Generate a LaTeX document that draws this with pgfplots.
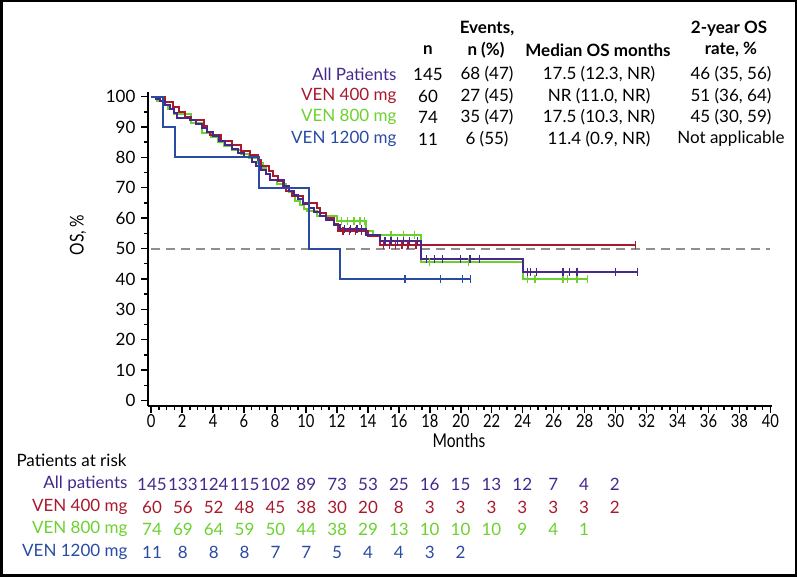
\documentclass[border=0pt]{standalone}
\usepackage{fontspec}
\setmainfont{Lato}
\newfontfamily\condfont{Lato}[FakeStretch=0.82]
\usepackage{pgfplots}
\pgfplotsset{compat=1.18}

\definecolor{allc}{HTML}{46288C}
\definecolor{redc}{HTML}{A8192E}
\definecolor{grnc}{HTML}{6CD12E}
\definecolor{bluc}{HTML}{2A4BA3}
\definecolor{refc}{HTML}{8F8F8F}

\pgfplotsset{
  km/.style={const plot, line width=2pt, no marks},
  cens/.style={only marks, mark=|, mark size=4pt, mark options={line width=1.3pt}},
}

\begin{document}
\begin{tikzpicture}[x=1pt,y=1pt]
\path[use as bounding box] (0,0) rectangle (797,577);
\draw[line width=2.5pt] (1.25,1.25) rectangle (795.75,575.75);

\begin{axis}[
  at={(148pt,171pt)}, anchor=south west,
  scale only axis, width=624pt, height=314pt,
  xmin=-0.2, xmax=40.1, ymin=-1.8, ymax=101.5,
  axis x line*=bottom, axis y line*=left,
  axis line style={line width=1.8pt},
  xtick={0,2,...,40}, minor x tick num=3,
  ytick={0,10,...,100}, minor y tick num=1,
  tick align=outside,
  major tick length=7pt, minor tick length=4pt,
  every tick/.style={black, line width=1.5pt},
  /pgf/number format/assume math mode=true,
  xticklabel style={font=\condfont\fontsize{18}{20}\selectfont, yshift=2pt},
  yticklabel style={font=\fontsize{17}{20}\selectfont, xshift=-2pt},
]
\addplot[refc, line width=2pt, dash pattern=on 9pt off 6pt] coordinates {(0,50) (40,50)};

% VEN 800 mg
\addplot[km, grnc] coordinates {(0,100)(0.4,98.6)(0.8,97.3)(1.1,95.9)(1.5,94.2)(2.6,91.4)(3.3,88.0)(3.9,86.6)(4.3,85.2)(4.7,83.8)(5.2,82.4)(5.8,81.0)(6.3,79.7)(6.9,78.3)(7.2,76.5)(7.4,74.6)(7.7,72.5)(8.1,71.3)(8.7,70.0)(8.9,68.6)(9.1,67.2)(9.3,65.8)(9.6,64.4)(9.9,62.9)(10.1,62.3)(10.7,60.7)(12.0,59.0)(13.9,55.7)(14.3,54.6)(17.4,45.7)(24.0,40.0)(28.2,40.0)};
\addplot[cens, grnc] coordinates {(12.3,59.0)(12.7,59.0)(13.1,59.0)(13.5,59.0)(13.8,59.0)(15.5,54.6)(16.3,54.6)(17.0,54.6)(18.0,45.7)(20.5,45.7)(24.3,40)(24.8,40)(26.6,40)(26.9,40)(27.5,40)(28.2,40)};

% VEN 400 mg
\addplot[km, redc] coordinates {(0,100)(0.9,98.3)(1.4,96.7)(1.8,95.0)(2.2,93.3)(2.6,92.2)(3.4,90.2)(3.6,88.5)(3.8,87.4)(4.5,85.5)(5.2,84.0)(5.8,82.2)(6.4,80.8)(6.9,79.0)(7.1,77.2)(7.6,75.5)(7.9,73.8)(8.2,72.2)(8.5,70.6)(8.7,69.0)(9.1,67.2)(9.8,65.0)(10.7,63.4)(10.9,61.8)(11.3,60.1)(11.8,58.2)(12.1,55.8)(14.0,54.2)(14.8,51.0)(31.3,51.0)};
\addplot[cens, redc] coordinates {(12.4,55.8)(12.8,55.8)(13.2,55.8)(13.6,55.8)(15.0,51)(15.4,51)(15.8,51)(16.2,51)(16.6,51)(17.1,51)(31.3,51)};

% All patients
\addplot[km, allc] coordinates {(0,100)(0.3,99.3)(0.6,98.6)(0.9,97.2)(1.2,95.9)(1.5,94.5)(1.7,93.1)(2.5,92.4)(2.9,91.0)(3.3,89.6)(3.6,88.3)(4.0,86.9)(4.4,85.5)(4.8,84.1)(5.2,82.8)(5.6,81.4)(6.0,80.0)(6.5,78.6)(6.8,77.2)(7.1,75.8)(7.4,74.4)(7.7,72.7)(8.6,70.5)(8.9,69.0)(9.2,67.6)(9.5,66.2)(9.8,64.8)(10.2,63.4)(10.5,62.0)(10.9,60.7)(11.3,59.3)(11.8,57.9)(12.2,56.3)(13.9,54.6)(14.8,52.4)(17.4,46.4)(24.0,42.4)(31.4,42.4)};
\addplot[cens, allc] coordinates {(12.5,56.3)(12.9,56.3)(13.3,56.3)(13.6,56.3)(15.1,52.4)(15.5,52.4)(15.9,52.4)(16.3,52.4)(16.7,52.4)(17.2,52.4)(17.8,46.4)(18.3,46.4)(18.8,46.4)(20.0,46.4)(20.6,46.4)(21.2,46.4)(24.3,42.4)(24.5,42.4)(24.9,42.4)(26.6,42.4)(27.0,42.4)(27.5,42.4)(30.0,42.4)(31.4,42.4)};

% VEN 1200 mg
\addplot[km, bluc] coordinates {(0,100)(0.75,90)(1.55,80)(6.95,70)(10.2,50)(12.2,40)(20.65,40)};
\addplot[cens, bluc] coordinates {(16.4,40)(18.7,40)(20.1,40)(20.65,40)};
\end{axis}

% axis titles
\node[font=\condfont\fontsize{19}{22}\selectfont] at (459,136) {Months};
\node[font=\condfont\fontsize{19}{22}\selectfont, rotate=90] at (78,342) {OS, \%};

% summary table
\begin{scope}[every node/.style={font=\fontsize{17}{20}\selectfont}]
\node[font=\bfseries\fontsize{17}{20}\selectfont] at (487,548) {Events,};
\node[font=\bfseries\fontsize{17}{20}\selectfont] at (729,548) {2-year OS};
\node[font=\bfseries\fontsize{17}{20}\selectfont] at (428,527) {n};
\node[font=\bfseries\fontsize{17}{20}\selectfont] at (486,527) {n (\%)};
\node[font=\bfseries\fontsize{17}{20}\selectfont] at (598,527) {Median OS months};
\node[font=\bfseries\fontsize{17}{20}\selectfont] at (731,527) {rate, \%};

\node[anchor=east, text=allc] at (400,503) {All Patients};
\node[anchor=east, text=redc] at (400,481) {VEN 400 mg};
\node[anchor=east, text=grnc] at (400,460) {VEN 800 mg};
\node[anchor=east, text=bluc] at (400,438) {VEN 1200 mg};

\node at (428,503) {145}; \node at (487,503) {68 (47)}; \node at (599,503) {17.5 (12.3, NR)}; \node at (731,503) {46 (35, 56)};
\node at (428,481) {60};  \node at (487,481) {27 (45)}; \node at (599,481) {NR (11.0, NR)};   \node at (731,481) {51 (36, 64)};
\node at (428,460) {74};  \node at (487,460) {35 (47)}; \node at (599,460) {17.5 (10.3, NR)}; \node at (731,460) {45 (30, 59)};
\node at (428,438) {11};  \node at (487,438) {6 (55)};  \node at (599,438) {11.4 (0.9, NR)};  \node at (731,438) {Not applicable};
\end{scope}

% patients at risk
\begin{scope}[every node/.style={font=\fontsize{17}{20}\selectfont}]
\node[anchor=west] at (13,117) {Patients at risk};
\node[anchor=east, text=allc] at (131,93) {All patients};
\node[anchor=east, text=redc] at (131,70) {VEN 400 mg};
\node[anchor=east, text=grnc] at (131,48) {VEN 800 mg};
\node[anchor=east, text=bluc] at (131,25) {VEN 1200 mg};
\foreach \v [count=\i from 0] in {145,133,124,115,102,89,73,53,25,16,15,13,12,7,4,2}
  \node[text=allc, inner sep=0pt] at (152+30.86*\i,93) {\v};
\foreach \v [count=\i from 0] in {60,56,52,48,45,38,30,20,8,3,3,3,3,3,3,2}
  \node[text=redc, inner sep=0pt] at (152+30.86*\i,70) {\v};
\foreach \v [count=\i from 0] in {74,69,64,59,50,44,38,29,13,10,10,10,9,4,1}
  \node[text=grnc, inner sep=0pt] at (152+30.86*\i,48) {\v};
\foreach \v [count=\i from 0] in {11,8,8,8,7,7,5,4,4,3,2}
  \node[text=bluc, inner sep=0pt] at (152+30.86*\i,25) {\v};
\end{scope}
\end{tikzpicture}
\end{document}
